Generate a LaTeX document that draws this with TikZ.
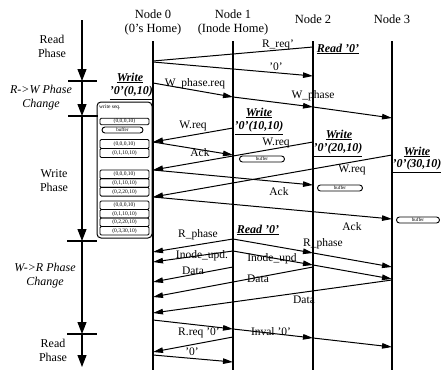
\documentclass[tikz,border=0pt]{standalone}
\usepackage{fontspec}
\setmainfont{Liberation Serif}
\usetikzlibrary{arrows.meta}
\begin{document}
\begin{tikzpicture}[x=1pt,y=-1pt,
  life/.style={line width=1.1pt},
  msg/.style={line width=1pt,-{Triangle[length=10pt,width=5.5pt]}},
  plainmsg/.style={line width=1pt},
  mlabel/.style={font=\fontsize{11.5}{12}\selectfont,inner sep=0.5pt},
  hdr/.style={font=\fontsize{12.5}{13}\selectfont,inner sep=0pt},
  phaselbl/.style={font=\fontsize{12}{14}\selectfont,align=center,inner sep=1pt},
  phaseit/.style={phaselbl,font=\fontsize{12}{14}\selectfont\itshape},
  act/.style={font=\fontsize{12}{13}\selectfont\bfseries\itshape,inner sep=0pt},
  seqrow/.style={draw,line width=0.9pt,rounded corners=1.2pt,minimum width=49pt,minimum height=8.6pt,inner sep=0pt,font=\fontsize{5.5}{6}\selectfont},
  bufbox/.style={draw,line width=0.9pt,rounded corners=3pt,minimum width=44pt,minimum height=6pt,inner sep=0pt,font=\fontsize{5}{5}\selectfont},
  axisarrow/.style={line width=1.1pt,-{Triangle[length=12pt,width=9pt]}},
  ticksty/.style={line width=1.1pt}
]
\useasboundingbox (0,0) rectangle (445,372);

% headers
\node[hdr] (h0) at (153,14) {Node 0};
\node[hdr] (h0b) at (153,29) {(0's Home)};
\node[hdr] (h1) at (233,14) {Node 1};
\node[hdr] (h1b) at (233,29) {(Inode Home)};
\node[hdr] (h2) at (313,19) {Node 2};
\node[hdr] (h3) at (392,19) {Node 3};

% lifelines
\coordinate (t0) at (153,41); \coordinate (e0) at (153,370);
\coordinate (t1) at (233,41); \coordinate (e1) at (233,370);
\coordinate (t2) at (313,41); \coordinate (e2) at (313,370);
\coordinate (t3) at (392,41); \coordinate (e3) at (392,370);
\draw[life] (t0) -- (e0);
\draw[life] (t1) -- (e1);
\draw[life] (t2) -- (e2);
\draw[life] (t3) -- (e3);

% phase axis
\coordinate (ax0) at (82,20);
\coordinate (ax1) at (82,81);
\coordinate (ax2) at (82,116);
\coordinate (ax3) at (82,241);
\coordinate (ax4) at (82,334);
\coordinate (ax5) at (82,367);
\draw[axisarrow] (ax0) -- (ax1);
\draw[axisarrow] (ax1) -- (ax2);
\draw[axisarrow] (ax2) -- (ax3);
\draw[axisarrow] (ax3) -- (ax4);
\draw[axisarrow] (ax4) -- (ax5);
\coordinate (k1a) at (68,81);  \coordinate (k1b) at (97,81);
\coordinate (k2a) at (68,116); \coordinate (k2b) at (98,116);
\coordinate (k3a) at (67,241); \coordinate (k3b) at (97,241);
\coordinate (k4a) at (67,334); \coordinate (k4b) at (97,334);
\draw[ticksty] (k1a) -- (k1b);
\draw[ticksty] (k2a) -- (k2b);
\draw[ticksty] (k3a) -- (k3b);
\draw[ticksty] (k4a) -- (k4b);

\node[phaselbl] (p1) at (52,46) {Read\\Phase};
\node[phaseit] (p2) at (41,98) {R->W Phase\\Change};
\node[phaselbl] (p3) at (54,181) {Write\\Phase};
\node[phaseit] (p4) at (45,275.5) {W->R Phase\\Change};
\node[phaselbl] (p5) at (53,350.5) {Read\\Phase};

% write sequence box at node 0
\node[draw,rounded corners=4pt,line width=1pt,minimum width=55pt,minimum height=136pt,inner sep=0pt] (wbox) at (124.5,170) {};
\node[anchor=west,inner sep=0pt,font=\fontsize{5.5}{6}\selectfont] (wseq) at (99,107.5) {write seq.};
\node[seqrow,minimum height=6.5pt] (g1a) at (124.5,121.5) {(0,0,0,10)};
\node[bufbox,minimum width=41pt] (g1buf) at (122.5,130) {buffer};
\node[seqrow,minimum height=9pt] (g2a) at (124.5,144) {(0,0,0,10)};
\node[seqrow,minimum height=9pt] (g2b) at (124.5,153) {(0,1,10,10)};
\node[seqrow,minimum height=8.7pt] (g3a) at (124.5,174.3) {(0,0,0,10)};
\node[seqrow,minimum height=8.7pt] (g3b) at (124.5,183) {(0,1,10,10)};
\node[seqrow,minimum height=8.7pt] (g3c) at (124.5,191.7) {(0,2,20,10)};
\node[seqrow,minimum height=8.5pt] (g4a) at (124.5,205.25) {(0,0,0,10)};
\node[seqrow,minimum height=8.5pt] (g4b) at (124.5,213.75) {(0,1,10,10)};
\node[seqrow,minimum height=8.5pt] (g4c) at (124.5,222.25) {(0,2,20,10)};
\node[seqrow,minimum height=8.5pt] (g4d) at (124.5,230.75) {(0,3,30,10)};

% buffers on other nodes
\node[bufbox,minimum width=45pt] (buf1) at (262,159) {buffer};
\node[bufbox,minimum width=45pt] (buf2) at (340,188) {buffer};
\node[bufbox,minimum width=43pt] (buf3) at (418,220) {buffer};

% action labels
\node[act] (rd2a) at (338,49) {\underline{Read '0'}};
\node[act] (w0a) at (130,78) {\underline{Write}};
\node[act,anchor=east] (w0b) at (153,93) {\underline{'0'(0,10)}};
\node[act] (w1a) at (259,113) {\underline{Write}};
\node[act] (w1b) at (259,128) {\underline{'0'(10,10)}};
\node[act] (w2a) at (339,135) {\underline{Write}};
\node[act] (w2b) at (338,150) {\underline{'0'(20,10)}};
\node[act] (w3a) at (417,152) {\underline{Write}};
\node[act] (w3b) at (417,166) {\underline{'0'(30,10)}};
\node[act] (rd1a) at (258,230) {\underline{Read '0'}};

% read phase (top)
\coordinate (m1s) at (313,47);  \coordinate (m1e) at (153,61);
\draw[plainmsg] (m1s) -- (m1e);
\node[mlabel] (l1) at (278,45) {R\_req'};
\coordinate (m2s) at (153,62);  \coordinate (m2e) at (313,76);
\draw[msg] (m2s) -- (m2e);
\node[mlabel] (l2) at (276,67) {'0'};

% R->W phase change
\coordinate (m3s) at (153,83);  \coordinate (m3e) at (233,97);
\draw[msg] (m3s) -- (m3e);
\node[mlabel] (l3) at (195,84) {W\_phase.req};
\coordinate (m4a) at (313,107); \coordinate (m4b) at (392,118);
\draw[msg] (m3e) -- (m4a);
\draw[msg] (m4a) -- (m4b);
\node[mlabel] (l4) at (313,96) {W\_phase};

% write phase
\coordinate (m5s) at (233,128); \coordinate (m5e) at (153,142);
\draw[msg] (m5s) -- (m5e);
\node[mlabel] (l5) at (193,126) {W.req};
\coordinate (m6e) at (233,155);
\draw[msg] (m5e) -- (m6e);
\node[mlabel] (l6) at (200,153) {Ack};
\coordinate (m7s) at (313,142); \coordinate (m7e) at (153,170);
\draw[msg] (m7s) -- (m7e);
\node[mlabel] (l7) at (276,143) {W.req};
\coordinate (m8e) at (313,185);
\draw[msg] (m7e) -- (m8e);
\node[mlabel] (l8) at (279,192) {Ack};
\coordinate (m9s) at (392,155); \coordinate (m9e) at (153,197);
\draw[msg] (m9s) -- (m9e);
\node[mlabel] (l9) at (352,170) {W.req};
\coordinate (m10e) at (392,219);
\draw[msg] (m9e) -- (m10e);
\node[mlabel] (l10) at (352,227) {Ack};

% W->R phase change
\coordinate (r1s) at (233,239); \coordinate (r1e) at (153,252);
\draw[msg] (r1s) -- (r1e);
\node[mlabel] (l11) at (198,235) {R\_phase};
\coordinate (r2a) at (313,253); \coordinate (r2b) at (392,267);
\draw[msg] (r1s) -- (r2a);
\draw[msg] (r2a) -- (r2b);
\node[mlabel] (l12) at (323,244) {R\_phase};
\coordinate (u1s) at (233,251); \coordinate (u1e) at (153,262);
\draw[msg] (u1s) -- (u1e);
\node[mlabel] (l13) at (202,256) {Inode\_upd.};
\coordinate (u2a) at (313,265); \coordinate (u2b) at (392,279);
\draw[msg] (u1s) -- (u2a);
\draw[msg] (u2a) -- (u2b);
\node[mlabel] (l14) at (272,259) {Inode\_upd};
\coordinate (d1s) at (233,267); \coordinate (d1e) at (153,282);
\draw[msg] (d1s) -- (d1e);
\node[mlabel] (l15) at (193,271) {Data};
\coordinate (d2s) at (313,267); \coordinate (d2e) at (153,297);
\draw[msg] (d2s) -- (d2e);
\node[mlabel] (l16) at (258,279) {Data};
\coordinate (d3s) at (392,280); \coordinate (d3e) at (153,313);
\draw[msg] (d3s) -- (d3e);
\node[mlabel] (l17) at (304,300) {Data};

% read phase (bottom)
\coordinate (i0) at (153,320); \coordinate (i1) at (233,329);
\coordinate (i2) at (313,338); \coordinate (i3) at (392,347);
\draw[msg] (i0) -- (i1);
\draw[msg] (i1) -- (i2);
\draw[msg] (i2) -- (i3);
\node[mlabel] (l18) at (271,332) {Inval '0'};
\coordinate (q1s) at (233,337); \coordinate (q1e) at (153,352);
\draw[msg] (q1s) -- (q1e);
\node[mlabel] (l19) at (199,333) {R.req '0'};
\coordinate (q2s) at (153,355); \coordinate (q2e) at (233,362);
\draw[msg] (q2s) -- (q2e);
\node[mlabel] (l20) at (192,352) {'0'};
\end{tikzpicture}
\end{document}
